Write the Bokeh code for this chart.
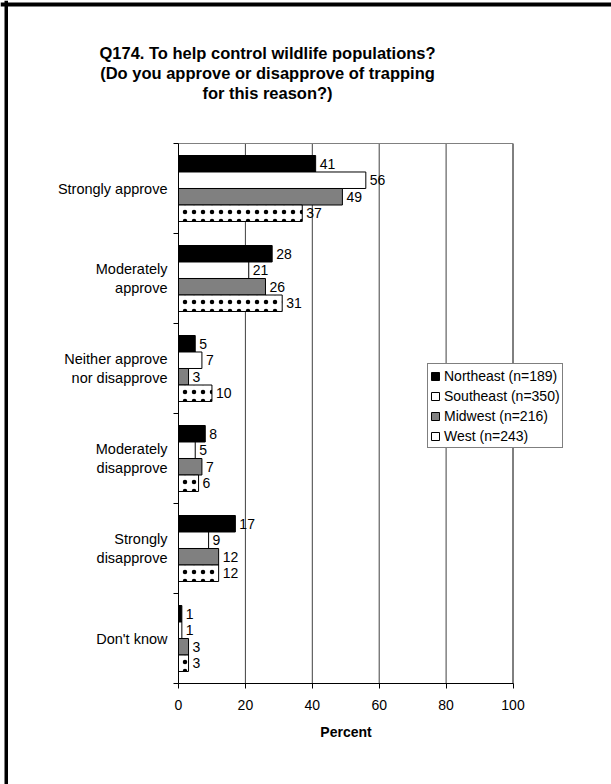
from bokeh.plotting import figure
from bokeh.models import Range1d, FixedTicker, Label, BoxAnnotation, ColumnDataSource
from bokeh.core.properties import value
from bokeh.embed import file_html
from bokeh.resources import INLINE

# ---------------- data ----------------
title_lines = [
    "Q174. To help control wildlife populations?",
    "(Do you approve or disapprove of trapping",
    "for this reason?)",
]
categories = [
    "Strongly approve",
    "Moderately\napprove",
    "Neither approve\nnor disapprove",
    "Moderately\ndisapprove",
    "Strongly\ndisapprove",
    "Don't know",
]
series_names = ["Northeast (n=189)", "Southeast (n=350)", "Midwest (n=216)", "West (n=243)"]
northeast = [41, 28, 5, 8, 17, 1]
southeast = [56, 21, 7, 5, 9, 1]
midwest = [49, 26, 3, 7, 12, 3]
west = [37, 31, 10, 6, 12, 3]
x_ticks = [0, 20, 40, 60, 80, 100]
x_label = "Percent"

# ---------------- layout / styling ----------------
W, H = 611, 784
FONT = "Liberation Sans"
fills = ["black", "white", "#808080", "white"]
offsets = [0.275, 0.0917, -0.0917, -0.275]
bar_h = 0.1833

# plot-area placement on the canvas (pixels)
AX_LEFT, AX_RIGHT, AX_TOP, AX_BOTTOM = 178.0, 512.5, 143.0, 683.0
n = len(categories)
x_max = x_ticks[-1]
px_x = (AX_RIGHT - AX_LEFT) / x_max
px_y = (AX_BOTTOM - AX_TOP) / n
x_range = Range1d(-AX_LEFT / px_x, (W - AX_LEFT) / px_x)
y_range = Range1d(-(H - AX_BOTTOM) / px_y, AX_BOTTOM / px_y)

centers = [n - 0.5 - i for i in range(n)]

p = figure(width=W, height=H, output_backend="svg", toolbar_location=None,
           x_range=x_range, y_range=y_range,
           min_border_left=0, min_border_right=0,
           min_border_top=0, min_border_bottom=0)
p.title.visible = False
p.background_fill_color = "white"
p.border_fill_color = "white"
p.outline_line_color = None
p.xgrid.grid_line_color = None
p.ygrid.grid_line_color = None

# grid lines and top edge of the plot area (limited to the plot area)
grid_x = x_ticks[1:]
p.segment(x0=grid_x, y0=[0] * len(grid_x), x1=grid_x, y1=[n] * len(grid_x),
          line_color=["#404040"] * (len(grid_x) - 1) + ["black"], line_width=1,
          level="underlay")
p.segment(x0=[0], y0=[n], x1=[x_max], y1=[n], line_color="#808080", line_width=1,
          level="underlay")

all_series = [northeast, southeast, midwest, west]
for k, (name, vals) in enumerate(zip(series_names, all_series)):
    ys = [c + offsets[k] for c in centers]
    src = ColumnDataSource(dict(y=ys, right=vals, label=[str(v) for v in vals]))
    p.hbar(y="y", left=0, right="right", height=bar_h, source=src,
           fill_color=fills[k], line_color="black", line_width=1,
           legend_label=name)
    if k == 3:
        # dotted pattern of the West bars (kept out of the legend swatch)
        p.hbar(y="y", left=0, right="right", height=bar_h, source=src,
               fill_alpha=0, line_color=None, hatch_pattern="dot",
               hatch_color="black", hatch_scale=9, hatch_weight=1)
    p.text(x="right", y="y", text="label", source=src, x_offset=4,
           text_baseline="middle", text_align="left",
           text_font=value(FONT), text_font_size="14px", text_color="black")

# y axis
yax = p.yaxis[0]
yax.fixed_location = 0
yax.bounds = (0, n)
yax.ticker = FixedTicker(ticks=centers, minor_ticks=list(range(n + 1)))
yax.major_label_overrides = {c: cat for c, cat in zip(centers, categories)}
yax.major_tick_out = 0
yax.major_tick_in = 0
yax.minor_tick_out = 5
yax.minor_tick_in = 0
yax.minor_tick_line_color = "black"
yax.axis_line_color = "black"
yax.major_label_standoff = 6
yax.major_label_text_align = "center"
yax.major_label_text_font = FONT
yax.major_label_text_font_size = "14.5px"
yax.major_label_text_color = "black"

# x axis
xax = p.xaxis[0]
xax.fixed_location = 0
xax.bounds = (0, x_max)
xax.ticker = FixedTicker(ticks=x_ticks)
xax.major_tick_out = 5
xax.major_tick_in = 0
xax.minor_tick_line_color = None
xax.axis_line_color = "black"
xax.major_tick_line_color = "black"
xax.major_label_standoff = 11
xax.major_label_text_font = FONT
xax.major_label_text_font_size = "14px"
xax.major_label_text_color = "black"
xax.axis_label = x_label
xax.axis_label_text_font = FONT
xax.axis_label_text_font_size = "14px"
xax.axis_label_text_font_style = "bold"
xax.axis_label_text_color = "black"
xax.axis_label_standoff = 11

# title (three centred lines)
for k, line in enumerate(title_lines):
    p.add_layout(Label(x=267, y=H - 52 - 20 * k, x_units="screen", y_units="screen",
                       text=line, text_align="center", text_baseline="alphabetic",
                       text_font=FONT, text_font_style="bold",
                       text_font_size="16.5px", text_color="black"))

# page frame lines (left and top)
p.add_layout(BoxAnnotation(left=4, right=7.5, bottom=0, top=H,
                           left_units="screen", right_units="screen",
                           bottom_units="screen", top_units="screen",
                           fill_color="black", fill_alpha=1, line_color=None))
p.add_layout(BoxAnnotation(left=0, right=W, bottom=H - 6, top=H - 2,
                           left_units="screen", right_units="screen",
                           bottom_units="screen", top_units="screen",
                           fill_color="black", fill_alpha=1, line_color=None))

# legend
leg = p.legend[0]
leg.location = (427, H - 448)
leg.border_line_color = "black"
leg.border_line_width = 1
leg.background_fill_color = "white"
leg.background_fill_alpha = 1
leg.label_text_font = FONT
leg.label_text_font_size = "14px"
leg.label_text_color = "black"
leg.glyph_width = 10
leg.glyph_height = 10
leg.label_height = 19
leg.label_standoff = 4
leg.spacing = 1
leg.padding = 2
leg.margin = 0

open("out.html", "w").write(file_html(p, INLINE))
